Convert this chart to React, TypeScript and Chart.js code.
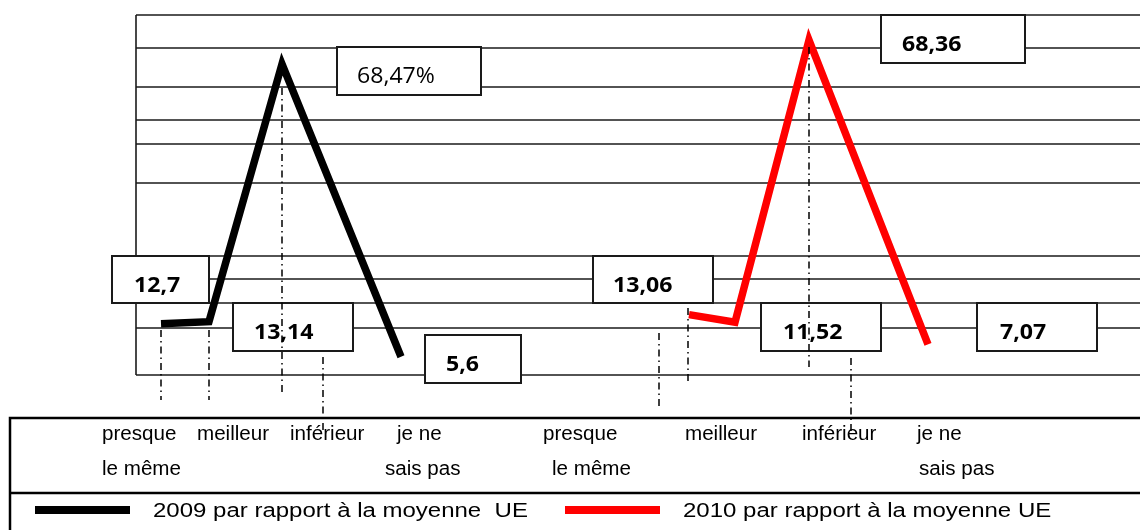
import React, { useEffect, useRef } from "react";
import { Chart, registerables } from "chart.js";

Chart.register(...registerables);

// ---------- data ----------
const categories = ["presque le même", "meilleur", "inférieur", "je ne sais pas"];
const categoryLines = [["presque", "le même"], ["meilleur"], ["inférieur"], ["je ne", "sais pas"]];
const values2009 = [12.7, 13.14, 68.47, 5.6];
const values2010 = [13.06, 11.52, 68.36, 7.07];
const suffix2009 = ["", "", "%", ""];
const suffix2010 = ["", "", "", ""];
const series2009 = "2009 par rapport à la moyenne  UE";
const series2010 = "2010 par rapport à la moyenne UE";
// horizontal placement of each point along the drawing (x axis units)
const xPos2009 = [161, 209, 282, 401];
const xPos2010 = [689, 735, 809, 928];

// ---------- layout (drawing decoration) ----------
const W = 1140;
const H = 530;
const GRID_Y = [15, 48, 87, 120, 144, 183, 256, 279, 303, 328, 375];
const FRAME_LEFT = 136;
type Box = { x: number; y: number; w: number; h: number; tx: number; bold: boolean };
const boxes2009: Box[] = [
  { x: 112, y: 256, w: 97, h: 47, tx: 134, bold: true },
  { x: 233, y: 303, w: 120, h: 48, tx: 254, bold: true },
  { x: 337, y: 47, w: 144, h: 48, tx: 357, bold: false },
  { x: 425, y: 335, w: 96, h: 48, tx: 446, bold: true },
];
const boxes2010: Box[] = [
  { x: 593, y: 256, w: 120, h: 47, tx: 613, bold: true },
  { x: 761, y: 303, w: 120, h: 48, tx: 783, bold: true },
  { x: 881, y: 15, w: 144, h: 48, tx: 902, bold: true },
  { x: 977, y: 303, w: 120, h: 48, tx: 1000, bold: true },
];
// category label x positions per panel (per line)
const labelX2009 = [[102, 102], [197], [290], [397, 385]];
const labelX2010 = [[543, 552], [685], [802], [917, 919]];
const ROW_BASE = [440, 475];

const fmt = (v: number, s: string) => String(v).replace(".", ",") + s;

function stretchText(ctx: CanvasRenderingContext2D, text: string, x: number, y: number, sx: number) {
  ctx.save();
  ctx.translate(x, y);
  ctx.scale(sx, 1);
  ctx.fillText(text, 0, 0);
  ctx.restore();
}

function guideLine(ctx: CanvasRenderingContext2D, x: number, y1: number, y2: number) {
  ctx.beginPath();
  ctx.moveTo(x, y1);
  ctx.lineTo(x, y2);
  ctx.stroke();
}

const decorPlugin = {
  id: "decor",
  beforeDatasetsDraw(chart: any) {
    const ctx: CanvasRenderingContext2D = chart.ctx;
    ctx.save();
    ctx.strokeStyle = "#1a1a1a";
    ctx.lineWidth = 1.6;
    GRID_Y.forEach((y) => {
      ctx.beginPath();
      ctx.moveTo(FRAME_LEFT, y);
      ctx.lineTo(W, y);
      ctx.stroke();
    });
    ctx.beginPath();
    ctx.moveTo(FRAME_LEFT, GRID_Y[0]);
    ctx.lineTo(FRAME_LEFT, GRID_Y[GRID_Y.length - 1]);
    ctx.stroke();
    ctx.restore();
  },
  afterDatasetsDraw(chart: any) {
    const ctx: CanvasRenderingContext2D = chart.ctx;
    const xs = chart.scales.x;
    ctx.save();

    // value boxes
    const drawBoxes = (bx: Box[], vals: number[], suf: string[]) => {
      bx.forEach((b, i) => {
        ctx.fillStyle = "#ffffff";
        ctx.fillRect(b.x, b.y, b.w, b.h);
        ctx.strokeStyle = "#1a1a1a";
        ctx.lineWidth = 2;
        ctx.strokeRect(b.x, b.y, b.w, b.h);
        ctx.fillStyle = "#000000";
        ctx.textBaseline = "alphabetic";
        ctx.textAlign = "left";
        ctx.font = (b.bold ? "bold " : "") + "22px 'Open Sans', sans-serif";
        stretchText(ctx, fmt(vals[i], suf[i]), b.tx, b.y + 36, 1.05);
      });
    };
    drawBoxes(boxes2009, values2009, suffix2009);
    drawBoxes(boxes2010, values2010, suffix2010);

    // dash-dot guide lines
    ctx.strokeStyle = "#000000";
    ctx.lineWidth = 1.5;
    ctx.setLineDash([7, 4, 1.5, 4]);
    const px = (v: number) => xs.getPixelForValue(v);
    guideLine(ctx, px(xPos2009[0]), 330, 400);
    guideLine(ctx, px(xPos2009[1]), 330, 400);
    guideLine(ctx, px(xPos2009[2]), 88, 392);
    guideLine(ctx, 323, 357, 432);
    guideLine(ctx, 659, 333, 407);
    guideLine(ctx, px(xPos2010[0]) - 1, 308, 383);
    guideLine(ctx, px(xPos2010[2]), 47, 367);
    guideLine(ctx, 851, 358, 435);
    ctx.setLineDash([]);

    // table frame
    ctx.strokeStyle = "#000000";
    ctx.lineWidth = 2.5;
    ctx.beginPath();
    ctx.moveTo(W, 418);
    ctx.lineTo(10, 418);
    ctx.lineTo(10, H);
    ctx.moveTo(10, 493);
    ctx.lineTo(W, 493);
    ctx.stroke();

    // category labels
    ctx.fillStyle = "#000000";
    ctx.font = "20px 'Liberation Sans', Arial, sans-serif";
    ctx.textBaseline = "alphabetic";
    const drawLabels = (pos: number[][]) => {
      categoryLines.forEach((lines, i) => {
        lines.forEach((t, j) => stretchText(ctx, t, pos[i][j], ROW_BASE[j], 1.03));
      });
    };
    drawLabels(labelX2009);
    drawLabels(labelX2010);

    // legend
    const ds = chart.data.datasets;
    const legendItems = [
      { bar: 35, text: 153 },
      { bar: 565, text: 683 },
    ];
    ctx.font = "20px 'Liberation Sans', Arial, sans-serif";
    legendItems.forEach((it, i) => {
      ctx.fillStyle = ds[i].borderColor;
      ctx.fillRect(it.bar, 506, 95, 8);
      ctx.fillStyle = "#000000";
      stretchText(ctx, ds[i].label, it.text, 517, 1.2);
    });
    ctx.restore();
  },
};

export default function App() {
  const ref = useRef<HTMLCanvasElement | null>(null);
  useEffect(() => {
    if (!ref.current) return;
    const chart = new Chart(ref.current, {
      type: "line",
      data: {
        labels: categories,
        datasets: [
          {
            label: series2009,
            data: values2009.map((v, i) => ({ x: xPos2009[i], y: v })),
            borderColor: "#000000",
            backgroundColor: "#000000",
            borderWidth: 7.5,
            pointRadius: 0,
            tension: 0,
            borderJoinStyle: "miter",
            borderCapStyle: "butt",
            yAxisID: "y",
          },
          {
            label: series2010,
            data: values2010.map((v, i) => ({ x: xPos2010[i], y: v })),
            borderColor: "#ff0000",
            backgroundColor: "#ff0000",
            borderWidth: 7.5,
            pointRadius: 0,
            tension: 0,
            borderJoinStyle: "miter",
            borderCapStyle: "butt",
            yAxisID: "y2",
          },
        ],
      },
      options: {
        responsive: false,
        devicePixelRatio: 1,
        animation: false,
        layout: { padding: 0 },
        plugins: { legend: { display: false }, tooltip: { enabled: false } },
        scales: {
          x: { type: "linear", min: 0, max: W, display: false },
          y: { type: "linear", min: -31.61, max: 82.22, display: false },
          y2: { type: "linear", min: -30.33, max: 76.42, display: false },
        },
      },
      plugins: [decorPlugin],
    } as any);
    return () => chart.destroy();
  }, []);
  return (
    <div style={{ position: "absolute", left: 0, top: 0, width: W, height: H, background: "#fff" }}>
      <canvas ref={ref} width={W} height={H} style={{ display: "block" }} />
    </div>
  );
}
